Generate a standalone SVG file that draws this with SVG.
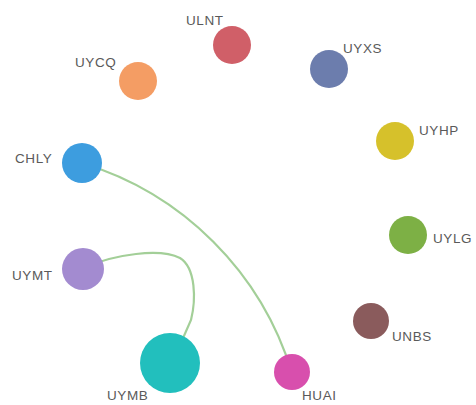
<svg xmlns="http://www.w3.org/2000/svg" width="476" height="405" viewBox="0 0 476 405">
<style>
.edge{fill:none;stroke:#a3cf98;stroke-width:2.2;stroke-linecap:round}
.lbl{font-family:"Liberation Sans",Arial,sans-serif;font-size:13.5px;fill:#5a5a5a;letter-spacing:0.6px}
</style>
<rect width="476" height="405" fill="#ffffff"/>
<g id="edges">
<path class="edge" d="M82 163 A315 315 0 0 1 292 373"/>
<path class="edge" d="M83 268 C115 254 160 248 180 258 C196 268 196 300 191 320 L180 345"/>
</g>
<g id="ULNT"><circle cx="232" cy="45" r="19" fill="#d05f68"/><text class="lbl" x="186" y="25">ULNT</text></g>
<g id="UYCQ"><circle cx="138" cy="81" r="19" fill="#f49d64"/><text class="lbl" x="75" y="67">UYCQ</text></g>
<g id="UYXS"><circle cx="329" cy="69" r="19" fill="#6c7dad"/><text class="lbl" x="343" y="53">UYXS</text></g>
<g id="UYHP"><circle cx="395" cy="141" r="19" fill="#d6c12b"/><text class="lbl" x="419" y="135">UYHP</text></g>
<g id="CHLY"><circle cx="82" cy="163" r="20" fill="#3d9ddf"/><text class="lbl" x="15" y="163">CHLY</text></g>
<g id="UYLG"><circle cx="408" cy="235" r="19" fill="#7db045"/><text class="lbl" x="433" y="243">UYLG</text></g>
<g id="UYMT"><circle cx="83" cy="269" r="21" fill="#a38bd0"/><text class="lbl" x="12" y="280">UYMT</text></g>
<g id="UNBS"><circle cx="371" cy="321" r="18" fill="#8a5b5c"/><text class="lbl" x="392" y="341">UNBS</text></g>
<g id="UYMB"><circle cx="170" cy="363" r="30" fill="#22bfbd"/><text class="lbl" x="107" y="400">UYMB</text></g>
<g id="HUAI"><circle cx="292" cy="372" r="18" fill="#d84fad"/><text class="lbl" x="302" y="400">HUAI</text></g>
</svg>
